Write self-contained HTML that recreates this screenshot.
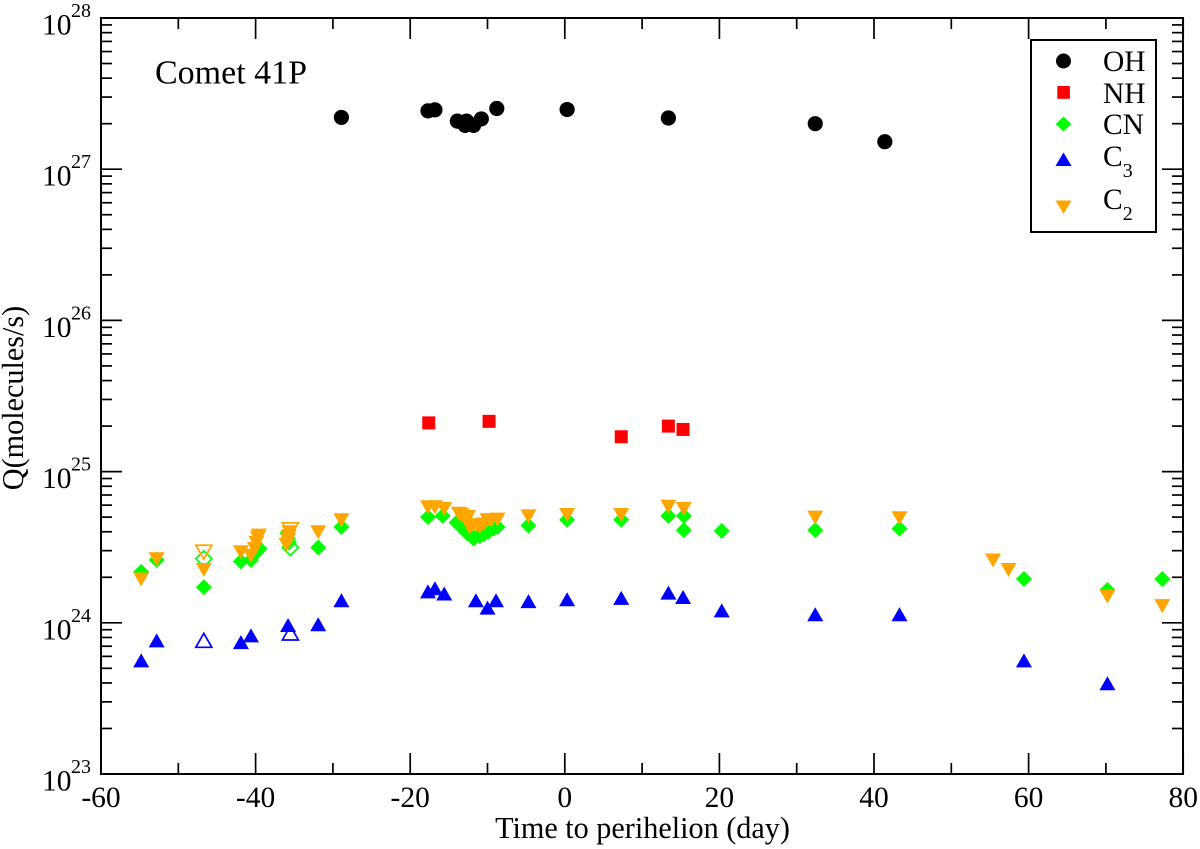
<!DOCTYPE html>
<html>
<head>
<meta charset="utf-8">
<title>Comet 41P</title>
<style>
html,body{margin:0;padding:0;background:#fff;}
svg{display:block;}
text{font-family:"Liberation Serif",serif;fill:#000;}
</style>
</head>
<body>
<svg id="chart" xmlns="http://www.w3.org/2000/svg" width="1200" height="849" viewBox="0 0 1200 849">
<g id="grid-ticks"></g>
<g id="marks"></g>
<rect x="101" y="18" width="1082" height="756" fill="none" stroke="#000" stroke-width="2"/>
<g id="tick-labels"></g>
<text x="642.5" y="838" font-size="30.2" text-anchor="middle">Time to perihelion (day)</text>
<text transform="translate(23,398) rotate(-90)" font-size="30.2" text-anchor="middle">Q(molecules/s)</text>
<text x="155" y="83.5" font-size="34">Comet 41P</text>
<g>
<rect x="1031" y="40" width="125" height="192" fill="#fff" stroke="#000" stroke-width="2"/>
<circle cx="1063.5" cy="61" r="7.5" fill="#000"/>
<rect x="1057.3" y="86" width="12.6" height="12.8" fill="#f00"/>
<polygon points="1063.5,116.5 1071.3,124 1063.5,131.5 1055.7,124" fill="#0f0"/>
<polygon points="1063.5,152.5 1071.5,166 1055.5,166" fill="#00f"/>
<polygon points="1055.5,200.5 1071.5,200.5 1063.5,214" fill="#ffa500"/>
<text x="1103" y="71" font-size="29.5">OH</text>
<text x="1103" y="103" font-size="29.5">NH</text>
<text x="1103" y="134" font-size="29.5">CN</text>
<text x="1103" y="166" font-size="29.5">C<tspan font-size="20" dy="11">3</tspan></text>
<text x="1103" y="209" font-size="29.5">C<tspan font-size="20" dy="11">2</tspan></text>
</g>
</svg>
<script>
var xTickLabels = ["-60","-40","-20","0","20","40","60","80"];
var xTickValues = [-60,-40,-20,0,20,40,60,80];
var xMinorValues = [-50,-30,-10,10,30,50,70];
var yTickExponents = [28,27,26,25,24,23];

var ohDays = [-28.9,-17.7,-16.8,-13.9,-12.9,-12.7,-11.8,-10.8,-8.8,0.3,13.4,32.4,41.4];
var ohQ = [2.2e27,2.43e27,2.47e27,2.08e27,1.95e27,2.08e27,1.95e27,2.15e27,2.52e27,2.48e27,2.18e27,2.0e27,1.52e27];

var nhDays = [-17.6,-9.8,7.3,13.4,15.3];
var nhQ = [2.1e25,2.15e25,1.7e25,2.0e25,1.9e25];

var cnDays = [-54.8,-52.8,-46.7,-41.9,-40.6,-40.1,-39.7,-39.5,-35.9,-35.8,-35.7,-31.9,-28.9,-17.7,-15.8,-14,-13,-12.6,-12,-11.8,-11,-10.5,-9.9,-9.2,-8.7,-4.7,0.3,7.3,13.4,15.4,15.4,20.3,32.4,43.3,59.4,70.2,77.3];
var cnQ = [2.17e24,2.6e24,1.72e24,2.55e24,2.6e24,2.85e24,3.0e24,3.1e24,3.9e24,3.6e24,3.4e24,3.15e24,4.3e24,5.0e24,5.1e24,4.6e24,4.1e24,3.9e24,3.8e24,3.6e24,3.75e24,3.85e24,4.0e24,4.2e24,4.3e24,4.4e24,4.8e24,4.8e24,5.1e24,5.1e24,4.1e24,4.05e24,4.1e24,4.2e24,1.95e24,1.65e24,1.95e24];
var cnOpenDays = [-46.7,-35.5];
var cnOpenQ = [2.65e24,3.15e24];

var c3Days = [-54.8,-52.8,-41.9,-40.6,-35.8,-31.9,-28.9,-17.7,-16.8,-15.6,-11.5,-10,-8.9,-4.7,0.3,7.3,13.4,15.3,20.3,32.4,43.3,59.4,70.2];
var c3Q = [5.6e23,7.6e23,7.4e23,8.2e23,9.6e23,9.7e23,1.4e24,1.6e24,1.68e24,1.55e24,1.4e24,1.25e24,1.4e24,1.38e24,1.42e24,1.45e24,1.57e24,1.47e24,1.2e24,1.13e24,1.13e24,5.6e23,3.95e23];
var c3OpenDays = [-46.7,-35.5];
var c3OpenQ = [7.6e23,8.5e23];

var c2Days = [-54.8,-52.8,-46.7,-41.9,-40.6,-40.1,-39.9,-39.7,-39.6,-36,-35.8,-35.7,-35.6,-31.9,-28.9,-17.7,-16.8,-15.6,-13.7,-13.4,-12.9,-12.5,-12.3,-11.9,-11.4,-11,-10.5,-10,-9.5,-8.7,-4.7,0.3,7.3,13.4,15.4,32.4,43.3,55.4,57.4,70.2,77.3];
var c2Q = [1.95e24,2.65e24,2.25e24,2.95e24,2.8e24,3.1e24,3.4e24,3.65e24,3.8e24,3.3e24,3.55e24,3.75e24,4.0e24,4.0e24,4.8e24,5.85e24,5.85e24,5.7e24,5.3e24,5.2e24,4.9e24,5.05e24,4.3e24,4.45e24,4.45e24,4.35e24,4.5e24,4.8e24,4.8e24,4.85e24,5.1e24,5.2e24,5.2e24,5.9e24,5.7e24,5.0e24,4.95e24,2.6e24,2.25e24,1.5e24,1.3e24];
var c2OpenDays = [-46.7,-35.5];
var c2OpenQ = [2.95e24,4.15e24];

var NS = "http://www.w3.org/2000/svg";
function xScale(d){ return 101 + (d + 60) * 7.73; }
function yScale(q){ return 774 - (Math.log10(q) - 23) * 151.2; }
function make(tag, parent, attrs){
  var el = document.createElementNS(NS, tag);
  for (var k in attrs) el.setAttribute(k, attrs[k]);
  parent.appendChild(el);
  return el;
}
var ticks = document.getElementById("grid-ticks");
var labels = document.getElementById("tick-labels");
var marks = document.getElementById("marks");

function tickLine(x1, y1, x2, y2, name){
  var el = make("line", ticks, {x1:x1, y1:y1, x2:x2, y2:y2, stroke:"#000", "stroke-width":1.7});
  
  
}
xTickValues.forEach(function(v, i){
  var x = xScale(v);
  tickLine(x, 774, x, 753, "x-major-tick");
  tickLine(x, 18, x, 39, "x-major-tick-top");
  var t = make("text", labels, {x:x, y:807, "font-size":29.5, "text-anchor":"middle"});
  t.textContent = xTickLabels[i];
  
  
});
xMinorValues.forEach(function(v){
  var x = xScale(v);
  tickLine(x, 774, x, 763, "x-minor-tick");
  tickLine(x, 18, x, 29, "x-minor-tick-top");
});
yTickExponents.forEach(function(e){
  var y = yScale(Math.pow(10, e));
  tickLine(101, y, 122, y, "y-major-tick");
  tickLine(1183, y, 1162, y, "y-major-tick-right");
  var t = make("text", labels, {x:42, y:y + 16.5, "font-size":29.5});
  t.textContent = "10";
  
  
  var s = make("text", labels, {x:71, y:y - 1, "font-size":20});
  s.textContent = String(e);
  
  
  if (e > 23) {
    for (var m = 2; m <= 9; m++) {
      var ym = yScale(m * Math.pow(10, e - 1));
      tickLine(101, ym, 112, ym, "y-minor-tick");
      tickLine(1183, ym, 1172, ym, "y-minor-tick-right");
    }
  }
});

function circle(x, y, color){
  return make("circle", marks, {cx:x, cy:y, r:7.6, fill:color});
}
function square(x, y, color){
  return make("rect", marks, {x:x - 6.5, y:y - 6.5, width:13, height:13, fill:color});
}
function polyPoints(kind, x, y){
  if (kind === "diamond") return [x,y-8, x+8,y, x,y+8, x-8,y].join(" ");
  if (kind === "up") return [x,y-7.5, x+8,y+6.5, x-8,y+6.5].join(" ");
  return [x-8,y-6.5, x+8,y-6.5, x,y+7.5].join(" ");
}
function drawPoly(kind, days, vals, color, open, name){
  days.forEach(function(d, i){
    var attrs = {points:polyPoints(kind, xScale(d), yScale(vals[i]))};
    if (open) {
      attrs.fill = "none"; attrs.stroke = color; attrs["stroke-width"] = 1.7;
    } else {
      attrs.fill = color;
    }
    var el = make("polygon", marks, attrs);
    
    
  });
}
ohDays.forEach(function(d, i){
  var el = circle(xScale(d), yScale(ohQ[i]), "#000");
  
  
});
nhDays.forEach(function(d, i){
  var el = square(xScale(d), yScale(nhQ[i]), "#f00");
  
  
});
drawPoly("diamond", cnDays, cnQ, "#0f0", false, "cn-point");
drawPoly("diamond", cnOpenDays, cnOpenQ, "#0f0", true, "cn-open-point");
drawPoly("up", c3Days, c3Q, "#00f", false, "c3-point");
drawPoly("up", c3OpenDays, c3OpenQ, "#00f", true, "c3-open-point");
drawPoly("down", c2Days, c2Q, "#ffa500", false, "c2-point");
drawPoly("down", c2OpenDays, c2OpenQ, "#ffa500", true, "c2-open-point");
</script>
</body>
</html>
